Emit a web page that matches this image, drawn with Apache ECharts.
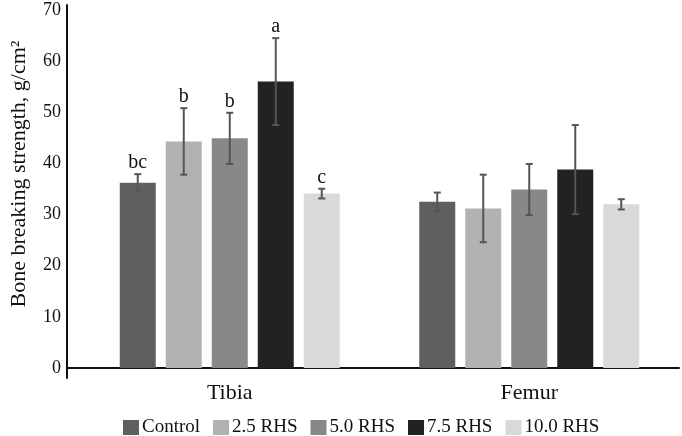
<!DOCTYPE html>
<html>
<head>
<meta charset="utf-8">
<script src="https://cdn.jsdelivr.net/npm/echarts@6/dist/echarts.min.js"></script>
<style>html,body{margin:0;padding:0;background:#fff}#c{width:682px;height:436px}</style>
</head>
<body>
<div id="c"></div>
<script>
const categories = ['Tibia', 'Femur'];
const seriesNames = ['Control', '2.5 RHS', '5.0 RHS', '7.5 RHS', '10.0 RHS'];
const controlMean = [36.2, 32.5];
const rhs25Mean = [44.3, 31.2];
const rhs50Mean = [44.9, 34.9];
const rhs75Mean = [56.0, 38.8];
const rhs100Mean = [34.1, 32.0];
const controlErr = [1.7, 1.8];
const rhs25Err = [6.5, 6.6];
const rhs50Err = [5.0, 5.0];
const rhs75Err = [8.5, 8.7];
const rhs100Err = [0.95, 1.0];
const tibiaLetters = ['bc', 'b', 'b', 'a', 'c'];
const femurLetters = ['', '', '', '', ''];
const yTicks = [0, 10, 20, 30, 40, 50, 60, 70];

const colors = ['#5f5f5f', '#b2b2b2', '#888888', '#222222', '#d9d9d9'];
const means = [controlMean, rhs25Mean, rhs50Mean, rhs75Mean, rhs100Mean];
const errs = [controlErr, rhs25Err, rhs50Err, rhs75Err, rhs100Err];
const letters = [tibiaLetters, femurLetters];
const BAR_W = 36, GAP = 10;
const FONT = '"Liberation Serif", "Times New Roman", serif';

const errData = [];
for (let s = 0; s < means.length; s++) {
  for (let c = 0; c < categories.length; c++) {
    errData.push([c, s, means[s][c] - errs[s][c], means[s][c] + errs[s][c], letters[c][s]]);
  }
}

const series = means.map((m, i) => ({
  name: seriesNames[i],
  type: 'bar',
  xAxisIndex: 0, yAxisIndex: 0,
  data: m,
  barWidth: BAR_W,
  barGap: (GAP / BAR_W * 100) + '%',
  itemStyle: { color: colors[i] },
  silent: true
}));

series.push({
  type: 'custom',
  xAxisIndex: 0, yAxisIndex: 0,
  data: errData,
  z: 10,
  silent: true,
  renderItem: function (params, api) {
    const cat = api.value(0), s = api.value(1);
    const hi = api.coord([cat, api.value(3)]);
    const lo = api.coord([cat, api.value(2)]);
    const x = hi[0] + (s - 2) * (BAR_W + GAP);
    const cap = 3.5;
    const st = { stroke: '#555555', lineWidth: 2 };
    const children = [
      { type: 'line', shape: { x1: x, y1: hi[1], x2: x, y2: lo[1] }, style: st },
      { type: 'line', shape: { x1: x - cap, y1: hi[1], x2: x + cap, y2: hi[1] }, style: st },
      { type: 'line', shape: { x1: x - cap, y1: lo[1], x2: x + cap, y2: lo[1] }, style: st }
    ];
    const lab = errData[params.dataIndex][4];
    if (lab) {
      children.push({ type: 'text', style: { text: lab, x: x, y: hi[1] - 1, align: 'center', verticalAlign: 'bottom', font: '20px ' + FONT, fill: '#111' } });
    }
    return { type: 'group', children: children };
  }
});

const option = {
  animation: false,
  backgroundColor: '#fff',
  grid: [
    { left: 80, right: 3, top: 10, bottom: 68 },
    { left: 63, right: 3, top: 10, bottom: 68 },
    { left: 66.5, right: 3, top: 5, bottom: 58 }
  ],
  legend: {
    data: seriesNames,
    left: 118, top: 413,
    itemWidth: 16, itemHeight: 15, itemGap: 13,
    icon: 'rect',
    textStyle: { fontFamily: FONT, fontSize: 19, color: '#111', padding: [0, 0, 0, -2] }
  },
  xAxis: [
    { gridIndex: 0, type: 'category', data: categories, axisLine: { show: false }, axisTick: { show: false },
      axisLabel: { margin: 14, fontFamily: FONT, fontSize: 22, color: '#111' } },
    { gridIndex: 1, type: 'category', data: categories, axisLine: { show: true, lineStyle: { color: '#111', width: 2 } },
      axisTick: { show: false }, axisLabel: { show: false } },
    { gridIndex: 2, type: 'category', data: categories, show: false }
  ],
  yAxis: [
    { gridIndex: 0, type: 'value', min: 0, max: 70, show: false },
    { gridIndex: 1, type: 'value', min: yTicks[0], max: yTicks[yTicks.length - 1], interval: 10,
      axisLine: { show: false }, axisTick: { show: false }, splitLine: { show: false },
      axisLabel: { margin: 6, fontFamily: FONT, fontSize: 18, color: '#111' },
      name: 'Bone breaking strength, g/cm²', nameLocation: 'middle', nameGap: 37, nameRotate: 90,
      nameTextStyle: { fontFamily: FONT, fontSize: 22, color: '#111', padding: [0, 0, 0, 30] } },
    { gridIndex: 2, type: 'value', min: 0, max: 1, axisLine: { show: true, lineStyle: { color: '#111', width: 2 } },
      axisTick: { show: false }, axisLabel: { show: false }, splitLine: { show: false } }
  ],
  series: series
};

echarts.init(document.getElementById('c'), null, { renderer: 'canvas' }).setOption(option);
</script>
</body>
</html>
